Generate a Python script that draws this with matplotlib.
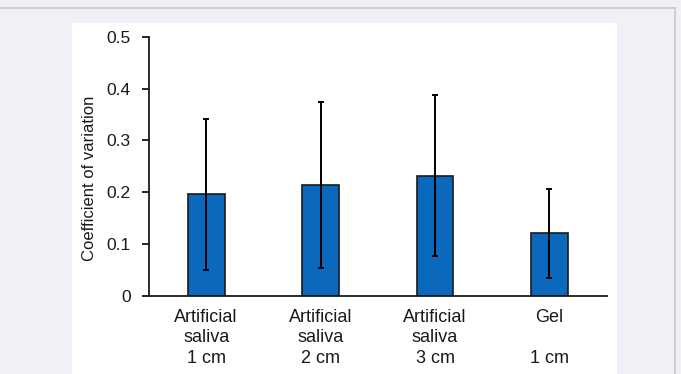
import numpy as np
import matplotlib.pyplot as plt
from matplotlib.patches import Rectangle
from matplotlib.lines import Line2D

plt.rcParams['font.family'] = ['Liberation Sans', 'DejaVu Sans']

# coefficient of variation per condition, with error bar half-widths
categories = ['Artificial\nsaliva\n1 cm', 'Artificial\nsaliva\n2 cm',
              'Artificial\nsaliva\n3 cm', 'Gel\n\n1 cm']
cv_mean = [0.196, 0.214, 0.232, 0.121]
cv_err = [0.145, 0.160, 0.155, 0.086]
y_ticks = [0, 0.1, 0.2, 0.3, 0.4, 0.5]
y_tick_labels = ['0', '0.1', '0.2', '0.3', '0.4', '0.5']

W, H = 681, 374
fig = plt.figure(figsize=(W / 100, H / 100), dpi=100)
fig.patch.set_facecolor('#f0f1f6')

# white card behind the chart and the thin frame lines
fig.add_artist(Rectangle((72 / W, 0), (617 - 72) / W, (H - 23) / H,
                         transform=fig.transFigure, facecolor='white',
                         edgecolor='none', zorder=0))
fig.add_artist(Line2D([0, 675 / W], [1 - 8 / H, 1 - 8 / H],
                      transform=fig.transFigure, color='#c8c8cc', lw=1.2))
fig.add_artist(Line2D([675 / W, 675 / W], [0, 1 - 8 / H],
                      transform=fig.transFigure, color='#c8c8cc', lw=1.2))

ax = fig.add_axes([149 / W, 1 - 296 / H, (606.7 - 149) / W, (296 - 36.7) / H])
ax.set_facecolor('none')

x = np.arange(len(categories))
ax.bar(x, cv_mean, width=0.32, color='#0a69bd', edgecolor='#1a1a1a',
       linewidth=1.2, zorder=2)
ax.errorbar(x, cv_mean, yerr=cv_err, fmt='none', ecolor='black',
            elinewidth=1.4, capsize=2, capthick=1.4, zorder=3)

ax.set_xlim(-0.5, 3.5)
ax.set_ylim(0, 0.5)
ax.set_yticks(y_ticks)
ax.set_yticklabels(y_tick_labels, fontsize=12.5, color='#1a1a1a')
ax.set_xticks(x)
ax.set_xticklabels(categories, fontsize=13, color='#1a1a1a', linespacing=1.3)
ax.tick_params(axis='x', length=0, pad=9)
ax.tick_params(axis='y', length=5, width=1.2, pad=8)
ax.set_ylabel('Coefficient of variation', fontsize=12, color='#1a1a1a')
ax.yaxis.set_label_coords(-0.113, 0.455)

for side in ['top', 'right']:
    ax.spines[side].set_visible(False)
for side in ['left', 'bottom']:
    ax.spines[side].set_linewidth(1.3)
    ax.spines[side].set_color('#1a1a1a')

fig.savefig('out.png', dpi=100, facecolor=fig.get_facecolor())
